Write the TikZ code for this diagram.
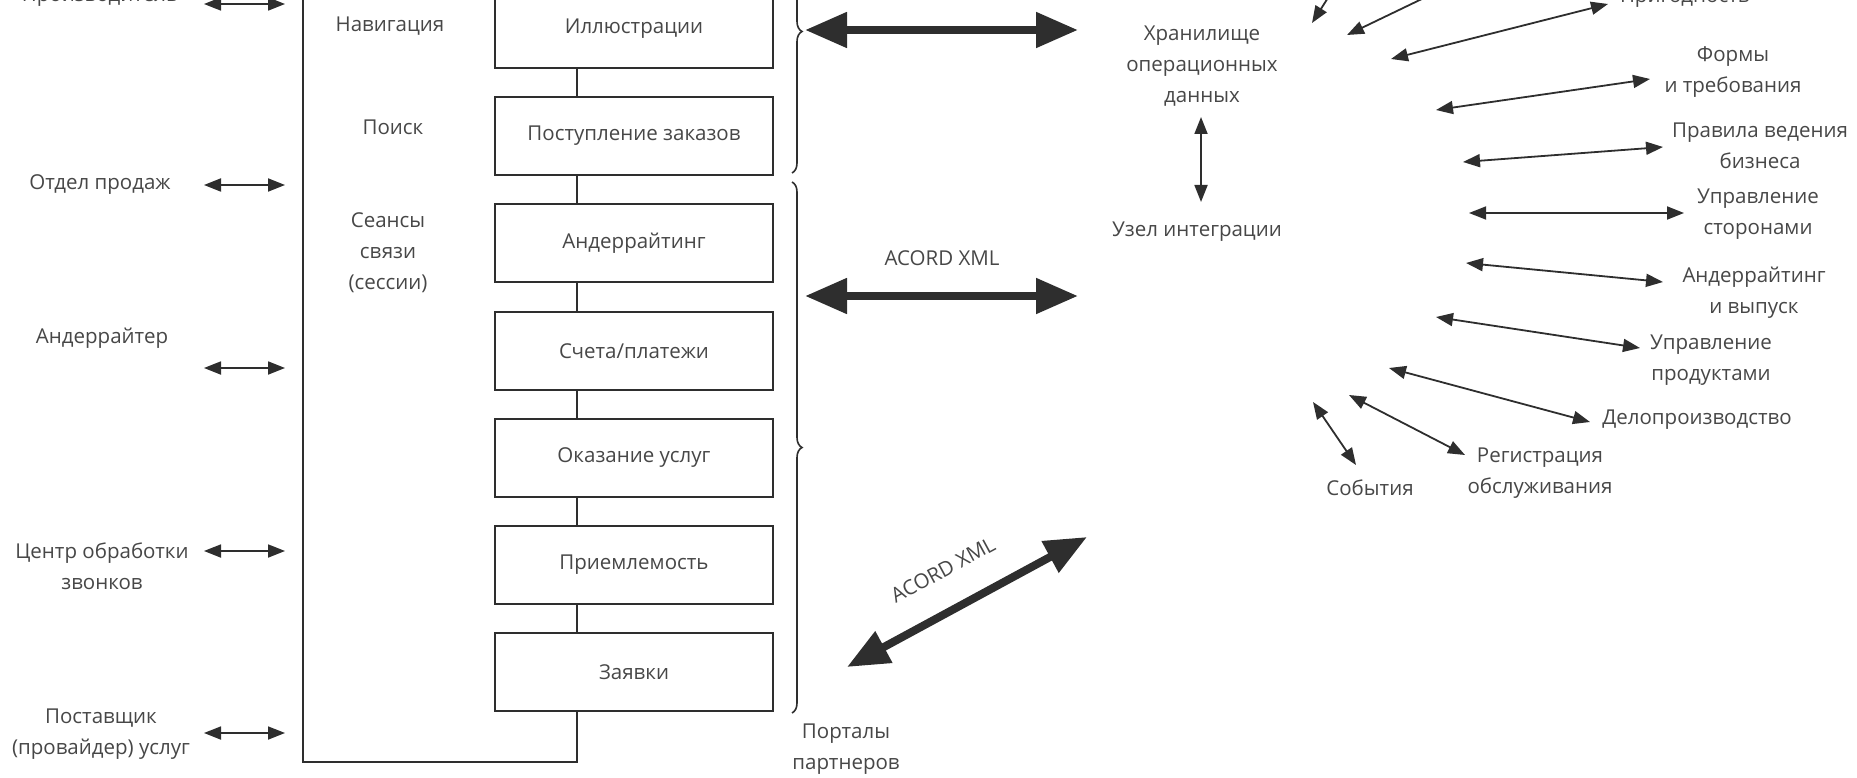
\documentclass[tikz,border=0pt]{standalone}
\usepackage{fontspec}
\setmainfont{Open Sans}
\usetikzlibrary{arrows.meta,decorations.pathreplacing}
\definecolor{ink}{HTML}{2E2E2E}
\definecolor{txt}{HTML}{474747}
\begin{document}
\begin{tikzpicture}[x=1pt,y=-1pt,
  every node/.style={font=\fontsize{20.5}{31}\selectfont, text=txt, align=center, inner sep=0pt},
  modbox/.style={draw=ink, line width=2.6pt, minimum width=278pt, minimum height=78pt},
  link/.style={draw=ink, line width=2.6pt},
  sarrow/.style={draw=ink, line width=1.8pt, {Triangle[length=17pt,width=13pt]}-{Triangle[length=17pt,width=13pt]}},
  barrow/.style={draw=ink, line width=8pt, {Triangle[length=42pt,width=34pt]}-{Triangle[length=42pt,width=34pt]}},
  pbrace/.style={draw=ink, line width=1.6pt, decorate, decoration={brace, amplitude=10pt}}
]
\useasboundingbox (0,0) rectangle (1857,778);

% ---- module boxes ----
\node[modbox] (b1) at (634,29)  {Иллюстрации};
\node[modbox] (b2) at (634,136) {Поступление заказов};
\node[modbox] (b3) at (634,243) {Андеррайтинг};
\node[modbox] (b4) at (634,351) {Счета/платежи};
\node[modbox] (b5) at (634,458) {Оказание услуг};
\node[modbox] (b6) at (634,565) {Приемлемость};
\node[modbox] (b7) at (634,672) {Заявки};

\coordinate (cx) at (577,0);
\draw[link] (b1.south -| cx) -- (b2.north -| cx);
\draw[link] (b2.south -| cx) -- (b3.north -| cx);
\draw[link] (b3.south -| cx) -- (b4.north -| cx);
\draw[link] (b4.south -| cx) -- (b5.north -| cx);
\draw[link] (b5.south -| cx) -- (b6.north -| cx);
\draw[link] (b6.south -| cx) -- (b7.north -| cx);

% ---- frame ----
\coordinate (ftl) at (303,-40);
\coordinate (fbl) at (303,762);
\draw[link] (ftl) -- (fbl) -| (b7.south -| cx);

% ---- inside frame ----
\node (nav) at (390,26) {Навигация};
\node (srch) at (393,127) {Поиск};
\node (sess) at (388,253) {Сеансы\\связи\\(сессии)};

% ---- left actors ----
\node (prod) at (100,-3) {Производитель};
\node (sales) at (100,185) {Отдел продаж};
\node (underw) at (102,338) {Андеррайтер};
\node (callc) at (102,566) {Центр обработки\\звонков};
\node (prov) at (101,734) {Поставщик\\(провайдер) услуг};

\coordinate (l1a) at (204,4);   \coordinate (l1b) at (285,4);
\coordinate (l2a) at (204,185); \coordinate (l2b) at (285,185);
\coordinate (l3a) at (204,368); \coordinate (l3b) at (285,368);
\coordinate (l4a) at (204,551); \coordinate (l4b) at (285,551);
\coordinate (l5a) at (204,733); \coordinate (l5b) at (285,733);
\draw[sarrow] (l1a) -- (l1b);
\draw[sarrow] (l2a) -- (l2b);
\draw[sarrow] (l3a) -- (l3b);
\draw[sarrow] (l4a) -- (l4b);
\draw[sarrow] (l5a) -- (l5b);

% ---- braces ----
\coordinate (br1t) at (792,-110); \coordinate (br1b) at (792,173);
\coordinate (br2t) at (792,182);  \coordinate (br2b) at (792,713);
\draw[pbrace] (br1t) -- (br1b);
\draw[pbrace] (br2t) -- (br2b);
\node (portals) at (846,749) {Порталы\\партнеров};

% ---- big arrows ----
\coordinate (g1l) at (805,30);  \coordinate (g1r) at (1078,30);
\coordinate (g2l) at (805,296); \coordinate (g2r) at (1078,296);
\coordinate (g3l) at (847,667); \coordinate (g3r) at (1087,537);
\draw[barrow] (g1l) -- (g1r);
\draw[barrow] (g2l) -- (g2r);
\draw[barrow] (g3l) -- (g3r);
\node (acord1) at (942,258) {ACORD XML};
\node[rotate=28.5] (acord2) at (943,570) {ACORD XML};

% ---- hub ----
\node (ods) at (1202,66) {Хранилище\\операционных\\данных};
\node (hub) at (1197,232) {Узел интеграции};
\coordinate (v1) at (1201,117); \coordinate (v2) at (1201,202);
\draw[sarrow] (v1) -- (v2);

% ---- right services ----
\node (fit)   at (1685,-2)  {Пригодность};
\node (forms) at (1733,72)  {Формы\\и требования};
\node (rules) at (1760,146) {Правила ведения\\бизнеса};
\node (party) at (1758,214) {Управление\\сторонами};
\node (uwi)   at (1754,293) {Андеррайтинг\\и выпуск};
\node (prodm) at (1711,360) {Управление\\продуктами};
\node (docs)  at (1697,420) {Делопроизводство};
\node (reg)   at (1540,473) {Регистрация\\обслуживания};
\node (evt)   at (1370,488) {События};

\coordinate (r1i) at (1312,23);  \coordinate (r1o) at (1352,-40);
\coordinate (r2i) at (1347,35);  \coordinate (r2o) at (1480,-29);
\coordinate (r3i) at (1391,59);  \coordinate (r3o) at (1608,4);
\coordinate (r4i) at (1436,110); \coordinate (r4o) at (1650,79);
\coordinate (r5i) at (1463,162); \coordinate (r5o) at (1663,147);
\coordinate (r6i) at (1469,213); \coordinate (r6o) at (1684,213);
\coordinate (r7i) at (1466,263); \coordinate (r7o) at (1663,282);
\coordinate (r8i) at (1436,317); \coordinate (r8o) at (1640,348);
\coordinate (r9i) at (1389,368); \coordinate (r9o) at (1590,422);
\coordinate (r10i) at (1349,395); \coordinate (r10o) at (1465,455);
\coordinate (r11i) at (1313,402); \coordinate (r11o) at (1356,465);
\foreach \k in {1,...,11} {\draw[sarrow] (r\k i) -- (r\k o);}
\end{tikzpicture}
\end{document}
